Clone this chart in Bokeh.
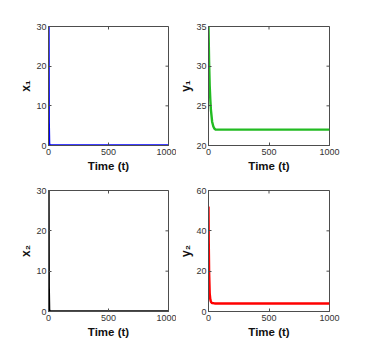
import math
from bokeh.plotting import figure
from bokeh.layouts import column, row
from bokeh.models import Range1d, FixedTicker
from bokeh.embed import file_html
from bokeh.resources import INLINE

# ---- data ----
t_x1 = [0, 2, 5, 10, 1000]
x1 = [30, 6, 0.5, 0, 0]

t_y1 = [0, 5, 10, 15, 20, 30, 40, 50, 60, 100, 1000]
y1 = [35, 30.5, 27.5, 25.8, 24.5, 23.0, 22.4, 22.1, 22.0, 22.0, 22.0]

t_x2 = [0, 2, 5, 10, 1000]
x2 = [30, 6, 0.5, 0, 0]

t_y2 = [0, 2, 5, 10, 15, 20, 30, 50, 1000]
y2 = [52, 35, 20, 9, 6, 4.8, 4.2, 4.0, 4.0]

x_ticks = [0, 500, 1000]
x1_ticks = [0, 10, 20, 30]
y1_ticks = [20, 25, 30, 35]
x2_ticks = [0, 10, 20, 30]
y2_ticks = [0, 20, 40, 60]

FONT = "Liberation Sans"
AX = "#4d4d4d"


def make(t, y, color, ylabel, yr, yticks, fw, fh, bl, br, bt, bb):
    p = figure(frame_width=fw, frame_height=fh,
               x_range=Range1d(0, 1000), y_range=Range1d(*yr),
               output_backend="svg", toolbar_location=None,
               min_border_left=bl, min_border_right=br,
               min_border_top=bt, min_border_bottom=bb,
               x_axis_label="Time (t)", y_axis_label=ylabel)
    p.line(t, y, line_color=color, line_width=2.4)
    p.xgrid.visible = False
    p.ygrid.visible = False
    p.outline_line_color = AX
    p.outline_line_width = 1
    p.xaxis.ticker = FixedTicker(ticks=x_ticks)
    p.yaxis.ticker = FixedTicker(ticks=yticks)
    for ax in (p.xaxis[0], p.yaxis[0]):
        ax.major_tick_in = 3
        ax.major_tick_out = 0
        ax.minor_tick_line_color = None
        ax.axis_line_color = AX
        ax.major_tick_line_color = AX
        ax.major_label_text_font = FONT
        ax.major_label_text_font_size = "9px"
        ax.major_label_text_color = "#333333"
        ax.major_label_standoff = 3
        ax.axis_label_text_font = FONT
        ax.axis_label_text_font_style = "bold"
        ax.axis_label_text_color = "#111111"
        ax.axis_label_standoff = 2
    p.yaxis.axis_label_standoff = 0
    p.yaxis.major_label_standoff = 2
    p.xaxis.axis_label_text_font_size = "11.5px"
    p.yaxis.axis_label_text_font_size = "12px"
    # inner tick marks on the top and right edges of the box
    p.ray(x=x_ticks, y=[yr[1]] * len(x_ticks), length=3, length_units="screen",
          angle=-math.pi / 2, line_color=AX, line_width=1)
    p.ray(x=[1000] * len(yticks), y=yticks, length=3, length_units="screen",
          angle=math.pi, line_color=AX, line_width=1)
    return p


p1 = make(t_x1, x1, "#0000ff", "x\u2081", (0, 30), x1_ticks, 120, 119, 48, 8, 26, 28)
p2 = make(t_y1, y1, "#22bb22", "y\u2081", (20, 35), y1_ticks, 121, 119, 30, 15, 26, 28)
p3 = make(t_x2, x2, "#000000", "x\u2082", (0, 30), x2_ticks, 120, 121, 48, 8, 16, 30)
p4 = make(t_y2, y2, "#ff0000", "y\u2082", (0, 60), y2_ticks, 121, 121, 30, 15, 16, 30)

layout = column(row(p1, p2), row(p3, p4))
open("out.html", "w").write(file_html(layout, INLINE))
